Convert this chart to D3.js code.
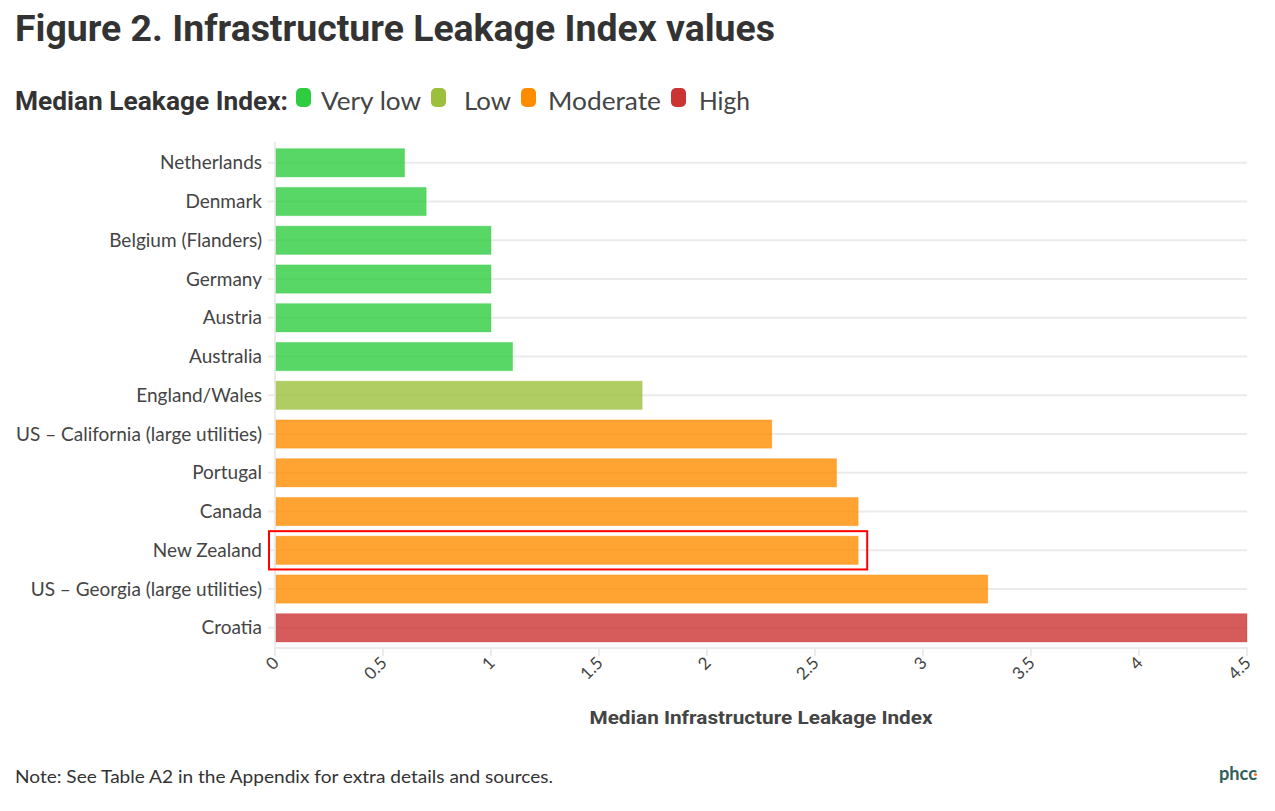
<!DOCTYPE html>
<html><head><meta charset="utf-8">
<script src="https://cdn.jsdelivr.net/npm/d3@7"></script>
<style>body{margin:0;background:#fff}svg{display:block}</style>
</head><body>
<svg id="c" width="1275" height="811"></svg>
<script>
const categories = ["Netherlands","Denmark","Belgium (Flanders)","Germany","Austria","Australia","England/Wales","US \u2013 California (large utilities)","Portugal","Canada","New Zealand","US \u2013 Georgia (large utilities)","Croatia"];
const values = [0.6,0.7,1.0,1.0,1.0,1.1,1.7,2.3,2.6,2.7,2.7,3.3,4.5];
const levels = ["Very low","Very low","Very low","Very low","Very low","Very low","Low","Moderate","Moderate","Moderate","Moderate","Moderate","High"];
const legendLabels = ["Very low","Low","Moderate","High"];
const legendColors = ["#2ecc40","#9cc03c","#ff8c00","#cc3333"];
const xTicks = [0,0.5,1,1.5,2,2.5,3,3.5,4,4.5];
const highlighted = "New Zealand";

const svg = d3.select("#c");
const color = d3.scaleOrdinal().domain(legendLabels).range(legendColors);
const x = d3.scaleLinear().domain([0,4.5]).range([275,1247]);
const y = d3.scaleBand().domain(categories).range([143.4,647.2]).paddingInner(0.27).paddingOuter(0.135);

// title
svg.append("text").attr("x",15).attr("y",41).attr("font-family","Roboto, sans-serif").attr("font-weight",700)
  .attr("font-size",37).attr("fill","#333").attr("textLength",760).attr("lengthAdjust","spacingAndGlyphs")
  .text("Figure 2. Infrastructure Leakage Index values");

// legend
const lg = svg.append("g");
lg.append("text").attr("x",15).attr("y",110).attr("font-family","Roboto, sans-serif").attr("font-weight",700)
  .attr("font-size",25).attr("fill","#333").attr("textLength",273).attr("lengthAdjust","spacingAndGlyphs")
  .text("Median Leakage Index:");
const legPos = [{s:296,t:321,w:100},{s:431,t:464,w:47},{s:521,t:548,w:113},{s:671,t:699,w:51}];
legendLabels.forEach((l,i)=>{
  lg.append("rect").attr("x",legPos[i].s).attr("y",88).attr("width",15).attr("height",19).attr("rx",5)
    .attr("fill",legendColors[i]);
  lg.append("text").attr("x",legPos[i].t).attr("y",110).attr("font-family","Lato, sans-serif")
    .attr("font-size",25).attr("fill","#444").attr("textLength",legPos[i].w).attr("lengthAdjust","spacingAndGlyphs").text(l);
});

// grid
const grid = svg.append("g");
grid.selectAll("line.h").data(categories).join("line")
  .attr("x1",268).attr("x2",1247)
  .attr("y1",d=>y(d)+y.bandwidth()/2).attr("y2",d=>y(d)+y.bandwidth()/2)
  .attr("stroke","#ebebeb").attr("stroke-width",2);
grid.append("line").attr("x1",275).attr("x2",275).attr("y1",142).attr("y2",648).attr("stroke","#ebebeb").attr("stroke-width",2);
grid.append("line").attr("x1",274).attr("x2",1248).attr("y1",648).attr("y2",648).attr("stroke","#ebebeb").attr("stroke-width",2);
grid.selectAll("line.t").data(xTicks).join("line")
  .attr("x1",d=>x(d)).attr("x2",d=>x(d)).attr("y1",648).attr("y2",656).attr("stroke","#ebebeb").attr("stroke-width",2);

// bars
svg.append("g").selectAll("rect").data(categories).join("rect")
  .attr("x",x(0)+1).attr("y",d=>y(d))
  .attr("width",(d,i)=>x(values[i])-x(0)-1).attr("height",y.bandwidth())
  .attr("fill",(d,i)=>color(levels[i])).attr("fill-opacity",0.8)
  .attr("stroke",(d,i)=>color(levels[i])).attr("stroke-opacity",0.3).attr("stroke-width",1);

// highlight box
const hi = categories.indexOf(highlighted);
svg.append("rect").attr("x",x(0)-6).attr("y",y(highlighted)-5)
  .attr("width",x(values[hi])-x(0)+15).attr("height",y.bandwidth()+10)
  .attr("fill","none").attr("stroke","#ff0000").attr("stroke-width",2);

// y labels
svg.append("g").selectAll("text").data(categories).join("text")
  .attr("x",262).attr("y",d=>y(d)+y.bandwidth()/2).attr("dy","0.35em").attr("text-anchor","end")
  .attr("font-family","Lato, sans-serif").attr("font-size",19).attr("fill","#444").text(d=>d);

// x tick labels
svg.append("g").selectAll("text").data(xTicks).join("text")
  .attr("transform",d=>`translate(${x(d)+5},${664}) rotate(-45)`).attr("text-anchor","end")
  .attr("font-family","Lato, sans-serif").attr("font-size",17).attr("fill","#444").text(d=>d);

// x title
svg.append("text").attr("x",761).attr("y",724).attr("text-anchor","middle").attr("font-family","Roboto, sans-serif")
  .attr("font-weight",700).attr("font-size",19).attr("fill","#444").attr("textLength",343).attr("lengthAdjust","spacingAndGlyphs")
  .text("Median Infrastructure Leakage Index");

// note
svg.append("text").attr("x",15).attr("y",783).attr("font-family","Lato, sans-serif").attr("font-size",17)
  .attr("fill","#333").attr("textLength",538).attr("lengthAdjust","spacingAndGlyphs")
  .text("Note: See Table A2 in the Appendix for extra details and sources.");

// logo
svg.append("text").attr("x",1219).attr("y",780).attr("font-family","Lato, sans-serif").attr("font-weight",700)
  .attr("font-size",18).attr("fill","#2f5e5b").attr("textLength",38).attr("lengthAdjust","spacingAndGlyphs").text("phcc");
svg.append("circle").attr("cx",1255.5).attr("cy",774.5).attr("r",1.6).attr("fill","#f07830");
</script>
</body></html>
